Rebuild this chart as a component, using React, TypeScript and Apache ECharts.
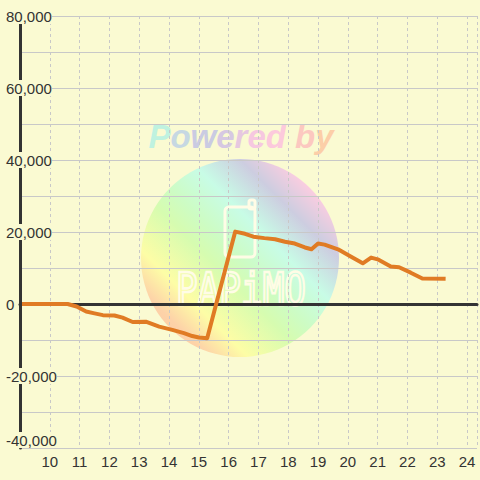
import React, { useEffect, useRef } from "react";
import * as echarts from "echarts";

// Time of day (hours) and cumulative result (yen)
const HOURS = [
  9.0, 10.6, 10.9, 11.22, 11.5, 11.78, 12.17, 12.44, 12.78, 13.22, 13.67, 14.11,
  14.5, 14.78, 15.0, 15.28, 16.22, 16.55, 16.83, 17.2, 17.56, 17.89, 18.22, 18.56,
  18.78, 19.0, 19.22, 19.67, 20.11, 20.5, 20.78, 21.0, 21.44, 21.72, 22.11, 22.5, 23.28,
];
const PROFIT = [
  0, 0, -700, -2100, -2600, -3100, -3200, -3800, -5000, -4900, -6300, -7200,
  -8100, -8900, -9300, -9500, 20100, 19500, 18700, 18300, 18000, 17300, 16800, 15700,
  15200, 16800, 16500, 15200, 13100, 11300, 12900, 12400, 10400, 10200, 8700, 7100, 7000,
];

const X_MIN = 9;
const X_MAX = 24 + 1 / 3;
const Y_MIN = -40000;
const Y_MAX = 80000;
const Y_GRID_STEP = 10000;
const Y_LABEL_STEP = 20000;

const WATERMARK_TOP = "Powered by";
const WATERMARK_LOGO = "PAPiMO";
const WATERMARK_LETTER_COLORS = [
  "#bff2e0", "#c6d8e2", "#cacbe2", "#d6c8e2", "#e6c8e0", "#f6c8e0",
  "#fcc9dc", "#fcc9d0", "#fcc8c0", "#fccea8",
];

const BG = "#fafad2";
const FONT = '"Liberation Sans", Arial, sans-serif';

export default function App() {
  const ref = useRef<HTMLDivElement>(null);

  useEffect(() => {
    const chart = echarts.init(ref.current!, null, { renderer: "svg" });
    const circleGrad = new echarts.graphic.LinearGradient(0, 1, 1, 0, [
      { offset: 0, color: "#fcc4a0" },
      { offset: 0.17, color: "#fdd2a8" },
      { offset: 0.27, color: "#fdfda6" },
      { offset: 0.42, color: "#d6fcb0" },
      { offset: 0.5, color: "#cdfcc4" },
      { offset: 0.62, color: "#c8fce6" },
      { offset: 0.75, color: "#cdcde0" },
      { offset: 0.86, color: "#fdcde0" },
      { offset: 1, color: "#fdd2d8" },
    ]);

    const wmFont = `italic bold 33px ${FONT}`;
    const rich: Record<string, any> = {};
    const chars = WATERMARK_TOP.split("");
    const richText = chars
      .map((c, i) => {
        rich["c" + i] = { fill: WATERMARK_LETTER_COLORS[i], font: wmFont };
        return `{c${i}|${c}}`;
      })
      .join("");

    const yLabelBase = {
      formatter: (v: number) => v.toLocaleString("en-US"),
      align: "left",
      margin: 14,
      fontSize: 15,
      lineHeight: 16,
      color: "#333",
      fontFamily: FONT,
      backgroundColor: BG,
    };

    chart.setOption({
      animation: false,
      backgroundColor: BG,
      grid: { left: 20, right: 0, top: 16, bottom: 32, containLabel: false },
      xAxis: [
        {
          type: "value",
          min: X_MIN,
          max: X_MAX,
          interval: 1,
          position: "bottom",
          axisLine: { show: false },
          axisTick: { show: false },
          axisLabel: {
            formatter: (v: number) =>
              Number.isInteger(v) && v >= 10 ? String(v) : "",
            fontSize: 15,
            color: "#333",
            margin: 6,
            fontFamily: FONT,
          },
          splitLine: {
            show: true,
            lineStyle: { color: "#c8c8c8", width: 1, type: [3, 3] },
          },
        },
        {
          type: "value",
          min: X_MIN,
          max: X_MAX,
          position: "top",
          axisLine: {
            show: true,
            onZero: true,
            lineStyle: { color: "#333", width: 3 },
          },
          axisTick: { show: false },
          axisLabel: { show: false },
          splitLine: { show: false },
        },
      ],
      yAxis: [
        {
          type: "value",
          min: Y_MIN,
          max: Y_MAX,
          interval: Y_GRID_STEP,
          position: "left",
          axisLine: { show: false },
          axisTick: { show: false },
          axisLabel: { show: false },
          splitLine: {
            show: true,
            lineStyle: { color: "#c8c8c8", width: 1 },
          },
        },
        {
          type: "value",
          min: Y_MIN,
          max: Y_MAX,
          interval: Y_LABEL_STEP,
          position: "left",
          z: 5,
          axisLine: { show: true, lineStyle: { color: "#333", width: 3 } },
          axisTick: { show: false },
          splitLine: { show: false },
          axisLabel: { ...yLabelBase, showMinLabel: false },
        },
        {
          type: "value",
          min: Y_MIN,
          max: Y_MAX,
          interval: Y_MAX - Y_MIN,
          position: "left",
          z: 6,
          axisLine: { show: false },
          axisTick: { show: false },
          splitLine: { show: false },
          axisLabel: {
            ...yLabelBase,
            verticalAlign: "bottom",
            showMaxLabel: false,
          },
        },
      ],
      graphic: [
        {
          type: "circle",
          z: -1,
          silent: true,
          shape: { cx: 240, cy: 258, r: 99 },
          style: { fill: circleGrad },
        },
        {
          type: "text",
          z: -1,
          silent: true,
          x: 241,
          y: 136,
          style: {
            text: richText,
            rich,
            font: wmFont,
            align: "center",
            verticalAlign: "middle",
          },
        },
        {
          type: "rect",
          z: -1,
          silent: true,
          shape: { x: 225, y: 207, width: 30, height: 50, r: 4 },
          style: { fill: "none", stroke: "#fffce6", lineWidth: 3 },
        },
        {
          type: "rect",
          z: -1,
          silent: true,
          shape: { x: 249, y: 200, width: 6, height: 9, r: 2 },
          style: { fill: "none", stroke: "#fffce6", lineWidth: 3 },
        },
        {
          type: "text",
          z: -1,
          silent: true,
          x: 241,
          y: 290,
          scaleY: 1.25,
          style: {
            text: WATERMARK_LOGO,
            font: '36px "DejaVu Sans Mono", monospace',
            fill: "none",
            stroke: "#fffce6",
            lineWidth: 2,
            align: "center",
            verticalAlign: "middle",
          },
        },
      ],
      series: [
        {
          type: "line",
          xAxisIndex: 0,
          yAxisIndex: 0,
          data: HOURS.map((h, i) => [h, PROFIT[i]]),
          symbol: "none",
          showSymbol: false,
          z: 3,
          lineStyle: { color: "#e07b24", width: 4, join: "round" },
        },
      ],
    });
    return () => chart.dispose();
  }, []);

  return (
    <div
      ref={ref}
      style={{ position: "absolute", left: 0, top: 0, width: 480, height: 480 }}
    />
  );
}
